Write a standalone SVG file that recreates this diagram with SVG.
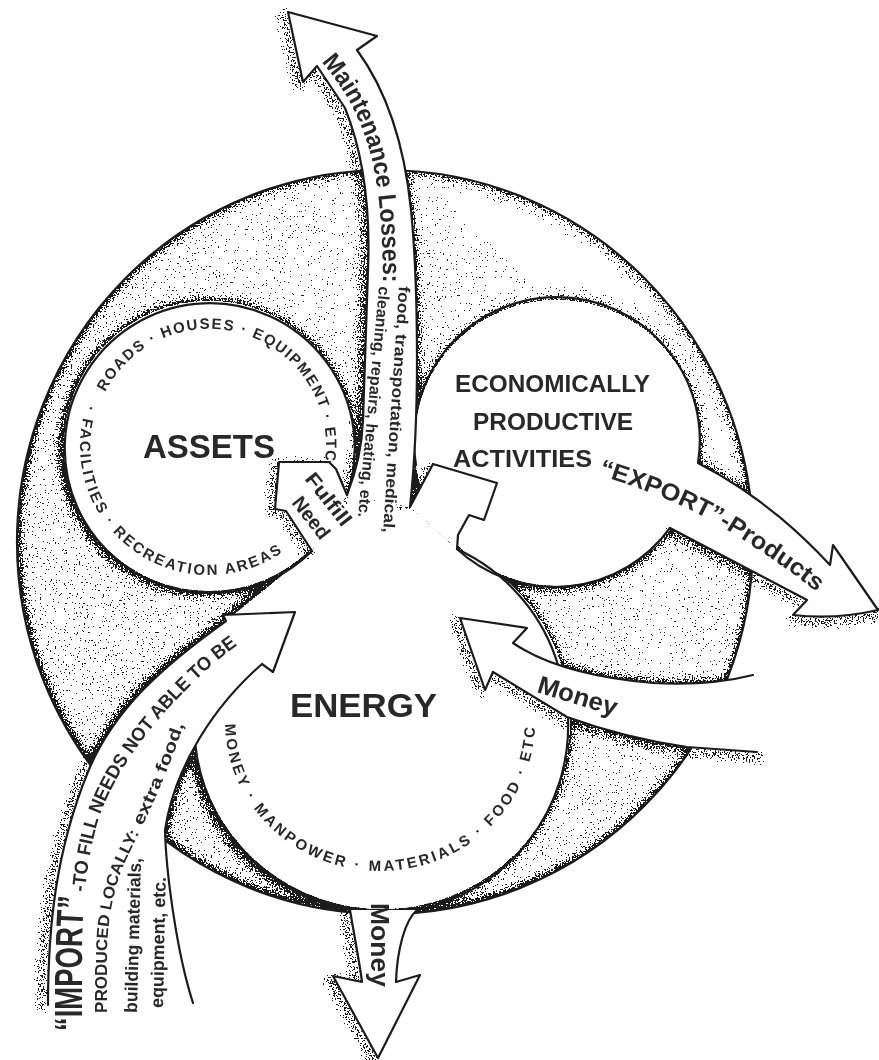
<svg xmlns="http://www.w3.org/2000/svg" width="879" height="1060" viewBox="0 0 879 1060">
<defs>
<style>
.ol{fill:none;stroke:#1b1b1b;stroke-width:2.2;stroke-linejoin:round;stroke-linecap:round}
.wf{fill:#fff}
.sh{fill:none;stroke:#000;stroke-width:8;stroke-opacity:.6;stroke-linejoin:round;stroke-linecap:round}
.t{font-family:"Liberation Sans",Arial,Helvetica,sans-serif;font-weight:bold;fill:#282828}
</style>
<linearGradient id="gd" gradientUnits="userSpaceOnUse" x1="80" y1="850" x2="720" y2="220">
<stop offset="0" stop-color="#000" stop-opacity="1"/>
<stop offset="1" stop-color="#000" stop-opacity="0.6"/>
</linearGradient>
<path id="pM" d="M347,495 C356,472 362,450 363,420 L368,270 C370,220 366,160 345,108 L317,66 L303,82 L288,12 L377,36 L357,50 C390,95 405,150 411,210 C415,250 417,300 417,360 C417,420 414,470 410,507 Z"/>
<path id="pF" d="M312,551 L286,511 L275,509 L279,462 L329,462 L336,469 L347,495 Z"/>
<path id="pP" d="M410,507 L433,464 L497,483 L484,520 L469,515 L458,535 L457,549 Z"/>
<path id="pX" d="M698,463 Q770,500 830,565 L833,545 L878,610 Q835,620 793,615 L807,600 L670,528 Z"/>
<path id="pR" d="M753,675 Q710,686 653,683 Q560,675 513,643 L527,628 L460,618 L485,690 L493,672 L567,717 Q625,738 687,747 L757,752 Z"/>
<path id="pD" d="M350,910 C355,940 360,965 362,982 L333,976 L378,1058 L420,975 L396,982 C397,950 405,920 417,910 Z"/>
<path id="pI" d="M48,1005 C48,930 55,850 90,767 C115,710 160,668 226,621 L223,615 L295,612 L273,672 L262,664 C215,705 175,765 165,830 C166,870 176,950 193,1003 Z"/>
<path id="pH" d="M195,742 A188 188 0 1 0 457,549 L410,507 L347,495 L312,551 L226,621 L205,700 Z"/>
<mask id="mA" maskUnits="userSpaceOnUse" x="0" y="0" width="879" height="1060">
<ellipse cx="385" cy="542" rx="368" ry="372" fill="#fff"/>
<g fill="#000">
<circle cx="209" cy="446" r="145"/>
<circle cx="557" cy="443" r="143"/>
<use href="#pH"/><use href="#pM"/><use href="#pF"/><use href="#pP"/><use href="#pX"/><use href="#pR"/><use href="#pD"/><use href="#pI"/>
</g>
</mask>
<filter id="fA" filterUnits="userSpaceOnUse" x="0" y="0" width="879" height="1060" color-interpolation-filters="sRGB">
<feGaussianBlur in="SourceAlpha" stdDeviation="6" result="b"/>
<feComposite in="SourceAlpha" in2="b" operator="arithmetic" k1="0" k2="2.3" k3="-2.05" k4="0" result="d"/>
<feTurbulence type="fractalNoise" baseFrequency="0.62" numOctaves="2" seed="4" result="n"/>
<feColorMatrix in="n" type="matrix" values="0 0 0 0 0 0 0 0 0 0 0 0 0 0 0 0 0 0 2.2 -0.6" result="na"/>
<feComposite in="d" in2="na" operator="arithmetic" k1="0" k2="1" k3="-1" k4="0.33" result="df"/>
<feComponentTransfer in="df" result="dots"><feFuncA type="discrete" tableValues="0 1"/></feComponentTransfer>
<feFlood flood-color="#1c1c1c" result="c"/>
<feComposite in="c" in2="dots" operator="in"/>
</filter>
<filter id="fB" filterUnits="userSpaceOnUse" x="0" y="0" width="879" height="1060" color-interpolation-filters="sRGB">
<feGaussianBlur in="SourceAlpha" stdDeviation="3.5" result="d"/>
<feTurbulence type="fractalNoise" baseFrequency="0.65" numOctaves="2" seed="9" result="n"/>
<feColorMatrix in="n" type="matrix" values="0 0 0 0 0 0 0 0 0 0 0 0 0 0 0 0 0 0 2.2 -0.6" result="na"/>
<feComposite in="d" in2="na" operator="arithmetic" k1="0" k2="1" k3="-1" k4="0.44" result="df"/>
<feComponentTransfer in="df" result="dots"><feFuncA type="discrete" tableValues="0 1"/></feComponentTransfer>
<feFlood flood-color="#1c1c1c" result="c"/>
<feComposite in="c" in2="dots" operator="in"/>
</filter>
<path id="aUp" d="M103.8,394.7 A117 117 0 0 1 322,476.3"/>
<path id="aLo" d="M87.8,401.9 A129 129 0 0 0 288.4,547.7"/>
<path id="nLo" d="M225,722 A155 149 0 0 0 535,722"/>
<path id="mTxt" d="M318,58 C345,88 362,120 372,160 C379,190 383,230 383,290"/>
<path id="xTxt" d="M596,474 C660,494 700,512 740,538 C775,560 800,578 835,607"/>
<path id="iT1" d="M82,1034 L82,960 C82,900 88,850 100,815 C115,775 140,740 165,712 C190,685 215,660 245,640"/>
<path id="iT2" d="M107,1020 L107,960 C107,920 113,890 125,862 C140,830 162,790 187,716"/>
</defs>

<rect width="879" height="1060" fill="#fff"/>

<g id="economy-system">
<g filter="url(#fA)"><rect width="879" height="1060" fill="url(#gd)" mask="url(#mA)"/></g>
<g mask="url(#mA)"><g filter="url(#fB)" fill="#000" fill-opacity=".7">
<circle cx="202" cy="452" r="145"/>
<circle cx="551" cy="449" r="143"/>
<circle cx="374" cy="729" r="188"/>
</g></g>
<g filter="url(#fB)">
<path class="sh" transform="translate(-5,3)" d="M288,12 L303,82 L317,66 L345,108 C366,160 370,220 368,270 L363,420 C362,450 356,472 347,495"/>
<path class="sh" transform="translate(-4,3)" d="M329,462 L279,462 L275,509 L286,511 L312,551"/>
<path class="sh" transform="translate(-5,2)" d="M433,464 L410,507"/>
<path class="sh" transform="translate(-5,2)" d="M460,618 L485,690"/>
<path class="sh" transform="translate(-1,5)" d="M493,672 L567,717 Q625,738 687,747 L760,752"/>
<path class="sh" transform="translate(-2,5)" d="M670,528 L807,600"/>
<path class="sh" transform="translate(0,5)" d="M793,615 Q835,620 878,610"/>
<path class="sh" transform="translate(-5,2)" d="M350,910 C355,940 360,965 362,982 L333,976 L378,1058"/>
<path class="sh" transform="translate(-6,2)" d="M48,1005 C48,930 55,850 90,767 C115,710 160,668 226,621"/>
</g>
<ellipse class="ol" cx="385" cy="542" rx="368" ry="372"/>
</g>

<g id="assets">
<path class="ol" d="M312,551 A145 145 0 1 1 347,495"/>
<text class="t" x="143" y="458" font-size="33" textLength="132" lengthAdjust="spacingAndGlyphs">ASSETS</text>
<text class="t" font-size="15"><textPath href="#aUp" startOffset="3" textLength="326">ROADS · HOUSES · EQUIPMENT · ETC</textPath></text>
<text class="t" font-size="15"><textPath href="#aLo" startOffset="3" textLength="322">· FACILITIES · RECREATION AREAS</textPath></text>
</g>

<g id="productive-activities">
<path class="ol" d="M416,465 A143 143 0 1 1 698,463"/>
<path class="ol" d="M670,528 A143 143 0 0 1 457,549"/>
<text class="t" x="455" y="392" font-size="24" textLength="195" lengthAdjust="spacingAndGlyphs">ECONOMICALLY</text>
<text class="t" x="473" y="430" font-size="24" textLength="160" lengthAdjust="spacingAndGlyphs">PRODUCTIVE</text>
<text class="t" x="453" y="467" font-size="24" textLength="139" lengthAdjust="spacingAndGlyphs">ACTIVITIES</text>
</g>

<g id="energy">
<path class="ol" d="M195,742 A188 188 0 0 0 350,910"/>
<path class="ol" d="M417,910 A188 188 0 0 0 568,717"/>
<path class="ol" d="M558,665 A188 188 0 0 0 457,549"/>
<text class="t" x="290" y="717" font-size="33" textLength="147" lengthAdjust="spacingAndGlyphs">ENERGY</text>
<text class="t" font-size="15"><textPath href="#nLo" startOffset="2" textLength="470">MONEY · MANPOWER · MATERIALS · FOOD · ETC</textPath></text>
</g>

<g id="connectors">
<g id="arrow-maintenance">
<use href="#pM" class="wf"/>
<path class="ol" d="M347,495 C356,472 362,450 363,420 L368,270 C370,220 366,160 345,108 L317,66 L303,82 L288,12 L377,36 L357,50 C390,95 405,150 411,210 C415,250 417,300 417,360 C417,420 414,470 410,507"/>
<text class="t" font-size="25"><textPath href="#mTxt" startOffset="5" textLength="235" lengthAdjust="spacingAndGlyphs">Maintenance Losses:</textPath></text>
<text class="t" font-size="16" transform="translate(399,286) rotate(93.7)" textLength="247" lengthAdjust="spacingAndGlyphs">food, transportation, medical,</text>
<text class="t" font-size="16" transform="translate(379,286) rotate(95.2)" textLength="232" lengthAdjust="spacingAndGlyphs">cleaning, repairs, heating, etc.</text>
</g>
<g id="arrow-fulfill">
<use href="#pF" class="wf"/>
<path class="ol" d="M312,551 L286,511 L275,509 L279,462 L329,462 L336,469 L347,495"/>
<text class="t" font-size="20" transform="translate(304,479) rotate(52)" textLength="62" lengthAdjust="spacingAndGlyphs">Fulfill</text>
<text class="t" font-size="20" transform="translate(291,503) rotate(52)" textLength="48" lengthAdjust="spacingAndGlyphs">Need</text>
</g>
<g id="arrow-productive">
<use href="#pP" class="wf"/>
<path class="ol" d="M410,507 L433,464 L497,483 L484,520 L469,515 L458,535 L457,549"/>
</g>
<g id="arrow-export">
<use href="#pX" class="wf"/>
<path class="ol" d="M698,463 Q770,500 830,565 L833,545 L878,610 Q835,620 793,615 L807,600 L670,528"/>
<text class="t" font-size="24"><textPath href="#xTxt" startOffset="2" textLength="250" lengthAdjust="spacingAndGlyphs">“EXPORT”-Products</textPath></text>
</g>
<g id="arrow-money-in">
<use href="#pR" class="wf"/>
<path class="ol" d="M753,675 Q710,686 653,683 Q560,675 513,643 L527,628 L460,618 L485,690 L493,672 L567,717 Q625,738 687,747 L757,752"/>
<text class="t" font-size="25" transform="translate(536,692) rotate(17)" textLength="82" lengthAdjust="spacingAndGlyphs">Money</text>
</g>
<g id="arrow-money-out">
<use href="#pD" class="wf"/>
<path class="ol" d="M350,910 C355,940 360,965 362,982 L333,976 L378,1058 L420,975 L396,982 C397,950 405,920 417,910"/>
<text class="t" font-size="25" transform="translate(371,903) rotate(90)" textLength="84" lengthAdjust="spacingAndGlyphs">Money</text>
</g>
<g id="arrow-import">
<use href="#pI" class="wf"/>
<path class="ol" d="M48,1005 C48,930 55,850 90,767 C115,710 160,668 226,621 L223,615 L295,612 L273,672 L262,664 C215,705 175,765 165,830 C166,870 176,950 193,1003"/>
<text class="t" font-size="38"><textPath href="#iT1" startOffset="3" textLength="134" lengthAdjust="spacingAndGlyphs">“IMPORT”</textPath></text>
<text class="t" font-size="19"><textPath href="#iT1" startOffset="142" textLength="300" lengthAdjust="spacingAndGlyphs">-TO FILL NEEDS NOT ABLE TO BE</textPath></text>
<text class="t" font-size="16"><textPath href="#iT2" startOffset="7" textLength="186" lengthAdjust="spacingAndGlyphs">PRODUCED LOCALLY:</textPath></text>
<text class="t" font-size="17"><textPath href="#iT2" startOffset="200" textLength="110" lengthAdjust="spacingAndGlyphs">extra food,</textPath></text>
<text class="t" font-size="18" transform="translate(137,1013) rotate(-88.5)" textLength="155" lengthAdjust="spacingAndGlyphs">building materials,</text>
<text class="t" font-size="18" transform="translate(163,1008) rotate(-88.8)" textLength="131" lengthAdjust="spacingAndGlyphs">equipment, etc.</text>
</g>
</g>
</svg>
